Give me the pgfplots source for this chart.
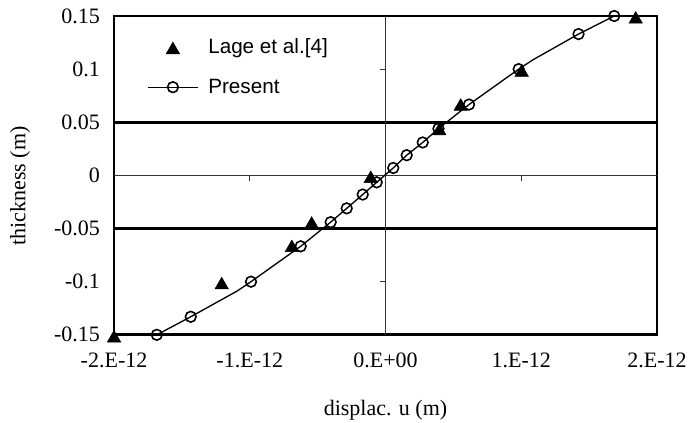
\documentclass[border=0pt]{standalone}
\usepackage{fontspec}
\setmainfont{Liberation Serif}
\newfontfamily\arial{Liberation Sans}
\newcommand\tickfont{\fontsize{16.5}{19}\selectfont}
\newcommand\legfont{\arial\fontsize{15.5}{18}\selectfont}
\usepackage{pgfplots}
\pgfplotsset{compat=1.18}

\begin{document}
\begin{tikzpicture}
\begin{axis}[
    name=ax,
    scale only axis,
    width=407pt, height=239pt,
    xmin=-2e-12, xmax=2e-12,
    ymin=-0.15, ymax=0.15,
    xtick={-2e-12,-1e-12,0,1e-12,2e-12},
    xticklabels={-2.E-12,-1.E-12,0.E+00,1.E-12,2.E-12},
    ytick={-0.15,-0.1,-0.05,0,0.05,0.1,0.15},
    yticklabels={-0.15,-0.1,-0.05,0,0.05,0.1,0.15},
    scaled x ticks=false,
    major tick length=0pt,
    axis line style={line width=1.2pt},
    ticklabel style={font=\tickfont},
    xticklabel style={yshift=-10pt},
    yticklabel style={xshift=-7pt},
    xlabel={displac. u (m)},
    ylabel={thickness (m)},
    label style={font=\tickfont},
    xlabel style={at={(axis description cs:0.5,-0.235)}, anchor=center},
    ylabel style={at={(axis description cs:-0.173,0.467)}, anchor=center},
    clip=false,
    legend style={at={(0.06,0.94)}, anchor=north west, draw=none, fill=none,
        inner sep=0pt, row sep=14pt, column sep=5pt, font=\legfont, nodes={font=\legfont}},
    legend cell align=left,
    legend image code/.code={\draw[mark repeat=2,mark phase=2,#1] plot coordinates {(0pt,0pt)(19pt,0pt)(38pt,0pt)};},
]
% layer boundaries
\addplot[line width=2.3pt, forget plot] coordinates {(-2e-12,0.05)(2e-12,0.05)};
\addplot[line width=2.3pt, forget plot] coordinates {(-2e-12,-0.05)(2e-12,-0.05)};
\addplot[line width=2.3pt, forget plot] coordinates {(-2e-12,-0.15)(2e-12,-0.15)};
% zero axes with their ticks
\draw[line width=0.6pt, black!80] (axis cs:-2e-12,0) -- (axis cs:2e-12,0);
\draw[line width=0.6pt, black!80] (axis cs:0,-0.15) -- (axis cs:0,0.15);
\draw[line width=0.6pt, black!80] (axis cs:0,0.1) -- ([xshift=-4pt]axis cs:0,0.1);
\draw[line width=0.6pt, black!80] (axis cs:0,-0.1) -- ([xshift=-4pt]axis cs:0,-0.1);
\draw[line width=0.6pt, black!80] (axis cs:-1e-12,0) -- ([yshift=-4pt]axis cs:-1e-12,0);
\draw[line width=0.6pt, black!80] (axis cs:1e-12,0) -- ([yshift=-4pt]axis cs:1e-12,0);

% Lage et al. [4]
\addplot[only marks, mark=triangle*, mark size=5.8pt, black,
    mark options={yshift=-2.5pt}] coordinates {
    (-2.0e-12,-0.15) (-1.207e-12,-0.1) (-0.69e-12,-0.065) (-0.544e-12,-0.043)
    (-0.109e-12,0) (0.396e-12,0.045) (0.554e-12,0.068) (1.003e-12,0.1)
    (1.843e-12,0.15)};
\addlegendentry{Lage et al.[4]}

% Present: line
\addplot[line width=1pt, black, forget plot] coordinates {
    (-1.685e-12,-0.15) (-1.435e-12,-0.133) (-1.096e-12,-0.109) (-0.991e-12,-0.1)
    (-0.625e-12,-0.0667) (-0.404e-12,-0.044) (-0.286e-12,-0.031) (-0.168e-12,-0.018)
    (-0.065e-12,-0.0065) (0.057e-12,0.007) (0.156e-12,0.019) (0.274e-12,0.031)
    (0.390e-12,0.044) (0.615e-12,0.0667) (0.981e-12,0.1) (1.089e-12,0.109)
    (1.422e-12,0.133) (1.685e-12,0.15)};
% Present: markers
\addplot[line width=1pt, black, mark=o, mark size=4pt,
    mark options={fill=white, line width=1.2pt}, draw=none] coordinates {
    (-1.685e-12,-0.15) (-1.435e-12,-0.133) (-0.991e-12,-0.1) (-0.625e-12,-0.0667)
    (-0.404e-12,-0.044) (-0.286e-12,-0.031) (-0.168e-12,-0.018) (-0.065e-12,-0.0065)
    (0.057e-12,0.007) (0.156e-12,0.019) (0.274e-12,0.031) (0.390e-12,0.044)
    (0.615e-12,0.0667) (0.981e-12,0.1) (1.422e-12,0.133) (1.685e-12,0.15)};
\addlegendentry{Present}
\end{axis}
\pgfresetboundingbox
\path ([shift={(-85.5pt,-66pt)}]ax.south west) rectangle ([shift={(23.25pt,12pt)}]ax.north east);
\end{tikzpicture}
\end{document}
